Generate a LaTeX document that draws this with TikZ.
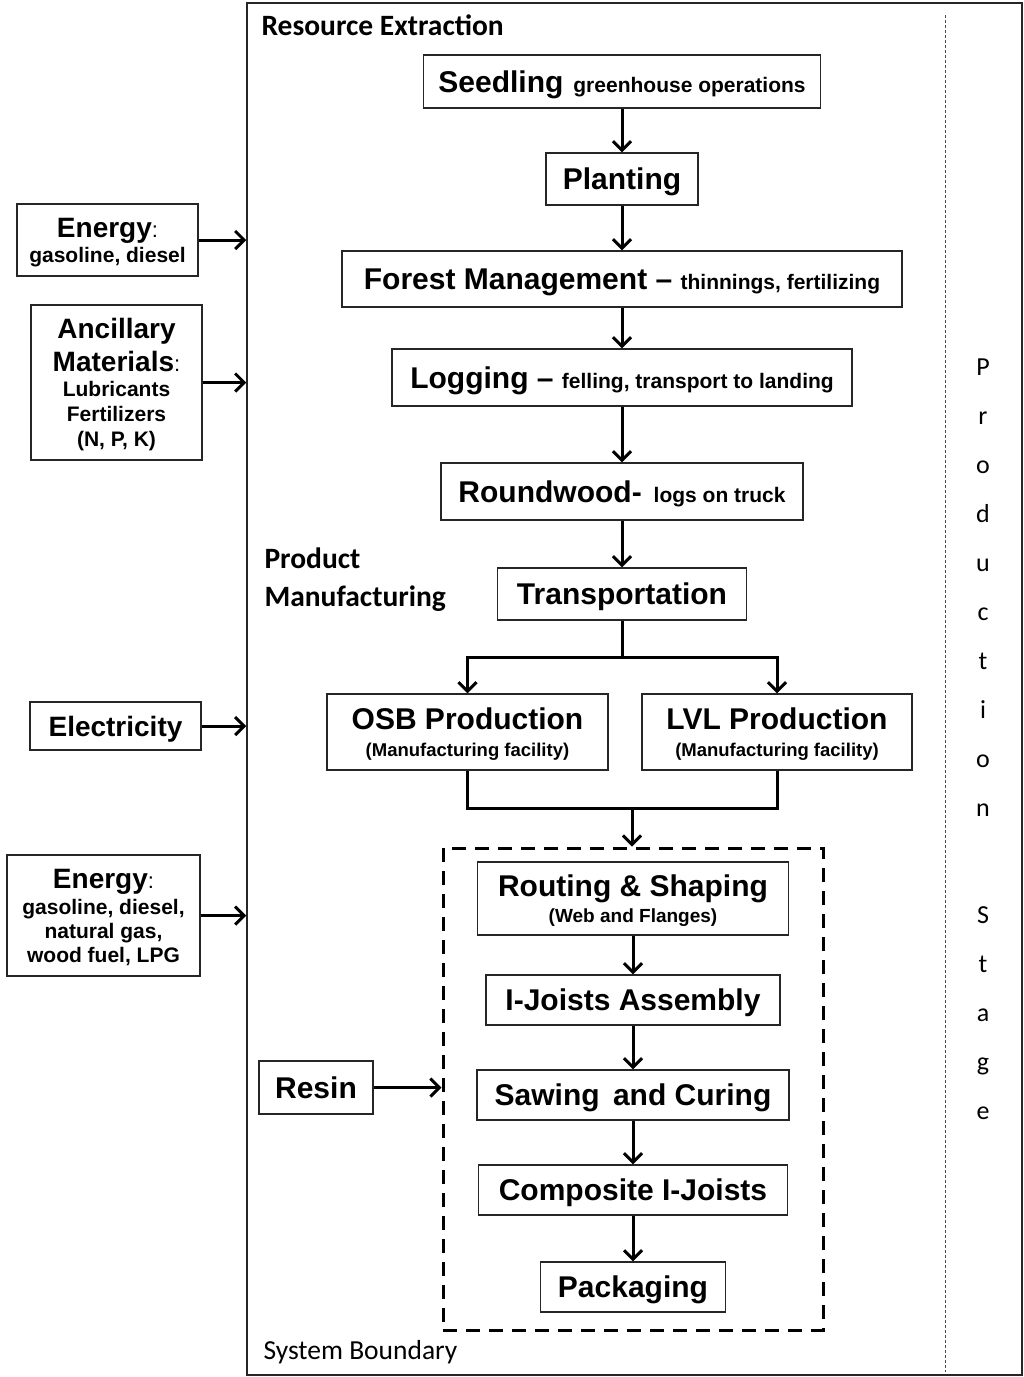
\documentclass[tikz,border=0pt]{standalone}
\usepackage{fontspec}
\setmainfont{Liberation Sans}
\newfontfamily\calfont{Carlito}
\usetikzlibrary{arrows.meta,calc}
\setlength{\lineskiplimit}{-50pt}

\newcommand\bigtxt{\fontsize{30}{34}\selectfont\bfseries}
\newcommand\midtxt{\fontsize{28}{33}\selectfont\bfseries}
\newcommand\subtxt{\fontsize{21}{25}\selectfont\bfseries}
\newcommand\captxt{\fontsize{18.5}{22}\selectfont\bfseries}
\newcommand\coltxt{\fontsize{22}{25}\selectfont\mdseries}
\newcommand\lbltxt{\calfont\fontsize{29.5}{38}\selectfont\bfseries}
\newcommand\skipset[1]{\fontsize{20}{#1}\selectfont}

\tikzset{
  box/.style={draw=black!85, line width=1.3pt, fill=white, inner sep=0pt, align=center, text depth=0pt},
  flow/.style={-{Straight Barb[length=9pt,width=18pt]}, line width=3pt},
  pipe/.style={line width=3pt}
}

\begin{document}
\begin{tikzpicture}[x=1pt, y=-1pt]
\useasboundingbox (0,0) rectangle (1024,1377);

% System boundary and stage line
\node[draw=black!85, line width=1.5pt, minimum width=775pt, minimum height=1372pt] (sysb) at (634.5,689) {};
\draw[black!70, line width=1pt, dash pattern=on 3pt off 2pt] (945,15) -- (945,1372);
\node[anchor=base west, font=\lbltxt] (resext) at (258,35) {Resource Extraction};
\node[anchor=base west, font=\lbltxt, align=left] (prodman) at (261,606) {Product\\Manufacturing};
\node[anchor=base west, font=\calfont\fontsize{27.5}{30}\selectfont] (sysbl) at (260,1359) {System Boundary};

% Production Stage
\foreach \ch [count=\i] in {P,r,o,d,u,c,t,i,o,n}
  \node[anchor=base, font=\calfont\fontsize{26}{30}\selectfont] at (983,{375+49*(\i-1)}) {\ch};
\foreach \ch [count=\i] in {S,t,a,g,e}
  \node[anchor=base, font=\calfont\fontsize{26}{30}\selectfont] at (983,{923+49*(\i-1)}) {\ch};

% Resource extraction chain
\node[box, minimum width=397pt, minimum height=53pt] (seed) at (622,81.5) {\bigtxt Seedling\hspace{10pt}\subtxt greenhouse operations};
\node[box, minimum width=152pt, minimum height=52pt] (plant) at (622,179) {\bigtxt Planting};
\node[box, minimum width=560pt, minimum height=56pt] (forest) at (622,279) {\bigtxt Forest Management\ \textendash\ \subtxt thinnings, fertilizing};
\node[box, minimum width=460pt, minimum height=57pt] (logging) at (622,377.5) {\bigtxt Logging\ \textendash\ \subtxt felling, transport to landing};
\node[box, minimum width=362pt, minimum height=57pt] (round) at (622,491.5) {\bigtxt Roundwood-\hspace{12pt}\subtxt logs on truck};
\node[box, minimum width=249pt, minimum height=52pt] (trans) at (622,594) {\bigtxt Transportation};

\draw[flow] (seed) -- (plant);
\draw[flow] (plant) -- (forest);
\draw[flow] (forest) -- (logging);
\draw[flow] (logging) -- (round);
\draw[flow] (round) -- (trans);

% Production
\node[box, font=\skipset{27}, minimum width=281pt, minimum height=76pt] (osb) at (467.5,732) {\bigtxt OSB Production\\\captxt (Manufacturing facility)};
\node[box, font=\skipset{27}, minimum width=270pt, minimum height=76pt] (lvl) at (777,732) {\bigtxt LVL Production\\\captxt (Manufacturing facility)};

\draw[pipe] (trans.south) -- ++(0,37) coordinate (split);
\draw[flow] (split) -| (osb.north);
\draw[flow] (split) -| (lvl.north);
\draw[pipe] (osb.south) -- ++(0,38) -| (lvl.south);
\coordinate (merge) at (632,808);

% I-joist plant
\node[draw, line width=3pt, dash pattern=on 14pt off 9pt, minimum width=380pt, minimum height=482pt] (dbox) at (633,1089) {};
\draw[flow] (merge) -- (merge |- dbox.north);

\node[box, font=\skipset{26}, minimum width=311pt, minimum height=73pt] (route) at (633,898.5) {\bigtxt Routing \& Shaping\\\fontsize{19}{22}\selectfont\bfseries (Web and Flanges)};
\node[box, minimum width=294pt, minimum height=50pt] (assem) at (633,1000) {\bigtxt I-Joists Assembly};
\node[box, minimum width=312pt, minimum height=50pt] (saw) at (633,1095) {\bigtxt Sawing\, and Curing};
\node[box, minimum width=309pt, minimum height=50pt] (comp) at (633,1190) {\bigtxt Composite I-Joists};
\node[box, minimum width=185pt, minimum height=50pt] (pack) at (633,1287) {\bigtxt Packaging};

\draw[flow] (route) -- (assem);
\draw[flow] (assem) -- (saw);
\draw[flow] (saw) -- (comp);
\draw[flow] (comp) -- (pack);

% Inputs
\node[box, font=\skipset{25}, minimum width=181pt, minimum height=72pt] (enA) at (107.5,240) {\midtxt Energy{\coltxt :}\\\subtxt gasoline, diesel};
\node[box, font=\skipset{25}, minimum width=171pt, minimum height=155pt] (anc) at (116.5,382.5) {\midtxt Ancillary\\[8pt]\midtxt Materials{\coltxt :}\\\subtxt Lubricants\\\subtxt Fertilizers\\\subtxt (N, P, K)};
\node[box, minimum width=171pt, minimum height=48pt] (elec) at (115.5,726) {\midtxt Electricity};
\node[box, font=\skipset{24}, minimum width=193pt, minimum height=121pt] (enB) at (103.5,915.5) {\midtxt Energy{\coltxt :}\\[2pt]\subtxt gasoline, diesel,\\\subtxt natural gas,\\\subtxt wood fuel, LPG};
\node[box, minimum width=114pt, minimum height=53pt] (resin) at (316,1087.5) {\bigtxt Resin};

\draw[flow] (enA.east) -- (enA.east -| sysb.west);
\draw[flow] (anc.east) -- (anc.east -| sysb.west);
\draw[flow] (elec.east) -- (elec.east -| sysb.west);
\draw[flow] (enB.east) -- (enB.east -| sysb.west);
\draw[flow] (resin.east) -- (resin.east -| dbox.west);
\end{tikzpicture}
\end{document}
